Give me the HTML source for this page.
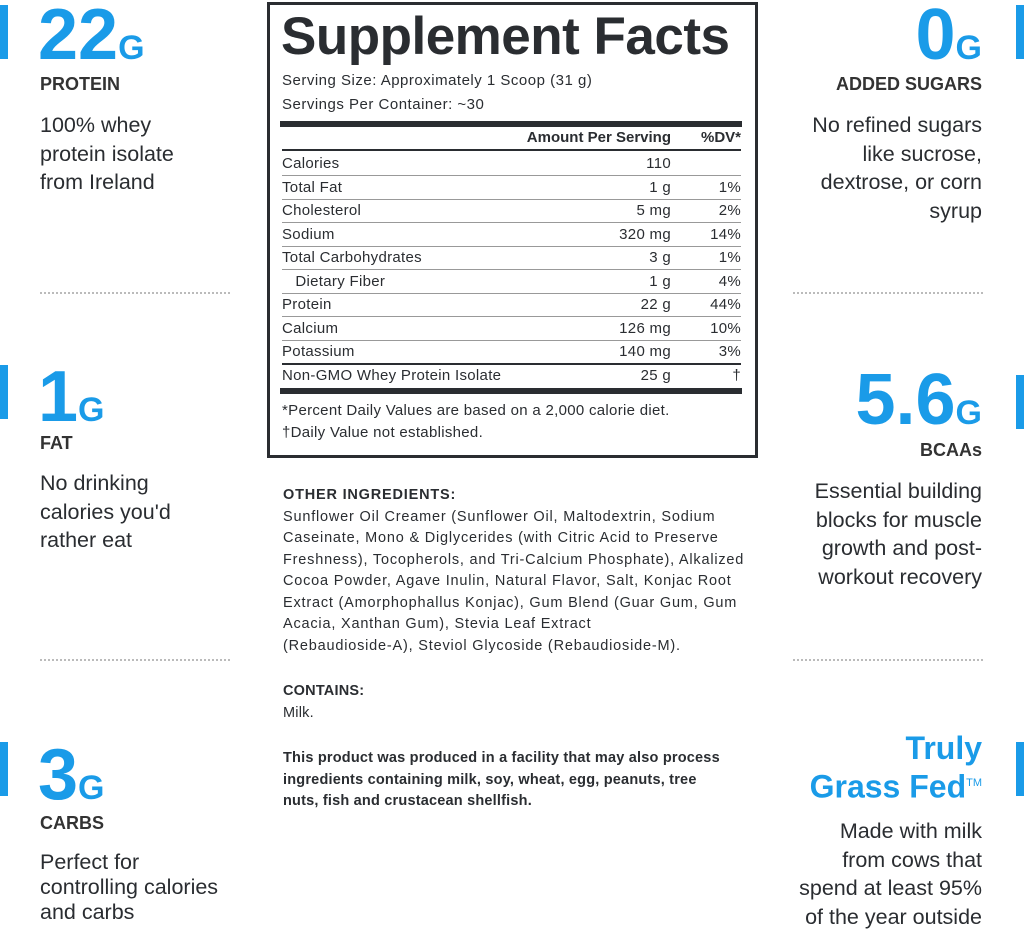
<!DOCTYPE html>
<html><head><meta charset="utf-8"><style>
body{margin:0;width:1024px;height:930px;background:#fff;position:relative;overflow:hidden;font-family:"Liberation Sans",sans-serif;color:#2a2d31}
.a{position:absolute}
.bar{position:absolute;width:8px;height:54px;background:#1a9be8}
.big{position:absolute;color:#1a9be8;font-weight:bold;font-size:72px;line-height:70px;letter-spacing:0px}
.big span{font-size:34px;letter-spacing:0}
.lab{position:absolute;font-weight:bold;font-size:18px;color:#333}
.desc{position:absolute;font-size:21.5px;line-height:28.5px;color:#2a2d31}
.r{text-align:right}
.dot{position:absolute;width:190px;border-top:2px dotted #bbb}
.box{position:absolute;left:267px;top:2px;width:485px;height:450px;border:3px solid #2a2d31}
.row{position:absolute;left:282px;width:459px;height:23px;font-size:15px;line-height:23px;border-bottom:1px solid #999;letter-spacing:0.3px}
.row .v{position:absolute;right:70px;top:0}
.row .p{position:absolute;right:0;top:0}
.ing{position:absolute;left:283px;font-size:14.5px;line-height:21.5px;width:490px;white-space:nowrap;letter-spacing:0.8px}
</style></head><body>
<div class="bar" style="left:0;top:5px"></div>
<div class="bar" style="left:0;top:365px"></div>
<div class="bar" style="left:0;top:742px"></div>
<div class="bar" style="left:1016px;top:5px"></div>
<div class="bar" style="left:1016px;top:375px"></div>
<div class="bar" style="left:1016px;top:742px"></div>

<div class="big" style="left:38px;top:0px">22<span>G</span></div>
<div class="lab" style="left:40px;top:74px">PROTEIN</div>
<div class="desc" style="left:40px;top:111px">100% whey<br>protein isolate<br>from Ireland</div>
<div class="dot" style="left:40px;top:292px"></div>
<div class="big" style="left:38px;top:362px">1<span>G</span></div>
<div class="lab" style="left:40px;top:433px">FAT</div>
<div class="desc" style="left:40px;top:469px">No drinking<br>calories you'd<br>rather eat</div>
<div class="dot" style="left:40px;top:659px"></div>
<div class="big" style="left:38px;top:740px">3<span>G</span></div>
<div class="lab" style="left:40px;top:813px">CARBS</div>
<div class="desc" style="left:40px;top:850px;line-height:25px">Perfect for<br>controlling calories<br>and carbs</div>

<div class="big r" style="right:42px;top:0px">0<span>G</span></div>
<div class="lab r" style="right:42px;top:74px">ADDED SUGARS</div>
<div class="desc r" style="right:42px;top:111px">No refined sugars<br>like sucrose,<br>dextrose, or corn<br>syrup</div>
<div class="dot" style="left:793px;top:292px"></div>
<div class="big r" style="right:42px;top:365px">5.6<span>G</span></div>
<div class="lab r" style="right:42px;top:440px">BCAAs</div>
<div class="desc r" style="right:42px;top:477px">Essential building<br>blocks for muscle<br>growth and post-<br>workout recovery</div>
<div class="dot" style="left:793px;top:659px"></div>
<div class="a r" style="right:42px;top:731px;color:#1a9be8;font-weight:bold;font-size:32px;line-height:35px">Truly<br>Grass Fed<sup style="font-size:11px;font-weight:normal">TM</sup></div>
<div class="desc r" style="right:42px;top:817px">Made with milk<br>from cows that<br>spend at least 95%<br>of the year outside</div>

<div class="box"></div>
<div class="a" style="left:281px;top:6px;font-size:53px;font-weight:bold;letter-spacing:-0.5px;color:#2a2d31">Supplement Facts</div>
<div class="a" style="left:282px;top:72px;font-size:15px;letter-spacing:0.5px">Serving Size: Approximately 1 Scoop (31 g)</div>
<div class="a" style="left:282px;top:96px;font-size:15px;letter-spacing:0.5px">Servings Per Container: ~30</div>
<div class="a" style="left:280px;top:121px;width:462px;height:6px;background:#2a2d31"></div>
<div class="a" style="left:282px;top:129px;width:459px;height:20px;font-size:15px;font-weight:bold;border-bottom:2px solid #2a2d31"><span class="a" style="right:70px;top:0">Amount Per Serving</span><span class="a" style="right:0;top:0">%DV*</span></div>
<div class="row" style="top:152px">Calories<span class="v">110</span></div>
<div class="row" style="top:176px">Total Fat<span class="v">1 g</span><span class="p">1%</span></div>
<div class="row" style="top:199px">Cholesterol<span class="v">5 mg</span><span class="p">2%</span></div>
<div class="row" style="top:223px">Sodium<span class="v">320 mg</span><span class="p">14%</span></div>
<div class="row" style="top:246px">Total Carbohydrates<span class="v">3 g</span><span class="p">1%</span></div>
<div class="row" style="top:270px">&nbsp;&nbsp;&nbsp;Dietary Fiber<span class="v">1 g</span><span class="p">4%</span></div>
<div class="row" style="top:293px">Protein<span class="v">22 g</span><span class="p">44%</span></div>
<div class="row" style="top:317px">Calcium<span class="v">126 mg</span><span class="p">10%</span></div>
<div class="row" style="top:340px;border-bottom:2px solid #2a2d31">Potassium<span class="v">140 mg</span><span class="p">3%</span></div>
<div class="row" style="top:364px;border:0">Non-GMO Whey Protein Isolate<span class="v">25 g</span><span class="p">†</span></div>
<div class="a" style="left:280px;top:388px;width:462px;height:6px;background:#2a2d31"></div>
<div class="a" style="left:282px;top:400px;font-size:15px;line-height:22px;letter-spacing:0.3px">*Percent Daily Values are based on a 2,000 calorie diet.<br>†Daily Value not established.</div>

<div class="ing" style="top:485px"><b>OTHER INGREDIENTS:</b><br>Sunflower Oil Creamer (Sunflower Oil, Maltodextrin, Sodium<br>Caseinate, Mono &amp; Diglycerides (with Citric Acid to Preserve<br>Freshness), Tocopherols, and Tri-Calcium Phosphate), Alkalized<br>Cocoa Powder, Agave Inulin, Natural Flavor, Salt, Konjac Root<br>Extract (Amorphophallus Konjac), Gum Blend (Guar Gum, Gum<br>Acacia, Xanthan Gum), Stevia Leaf Extract<br>(Rebaudioside-A), Steviol Glycoside (Rebaudioside-M).</div>
<div class="ing" style="top:681px;letter-spacing:0.2px"><b>CONTAINS:</b><br>Milk.</div>
<div class="ing" style="top:748px;font-weight:bold;letter-spacing:0.2px">This product was produced in a facility that may also process<br>ingredients containing milk, soy, wheat, egg, peanuts, tree<br>nuts, fish and crustacean shellfish.</div>
</body></html>
